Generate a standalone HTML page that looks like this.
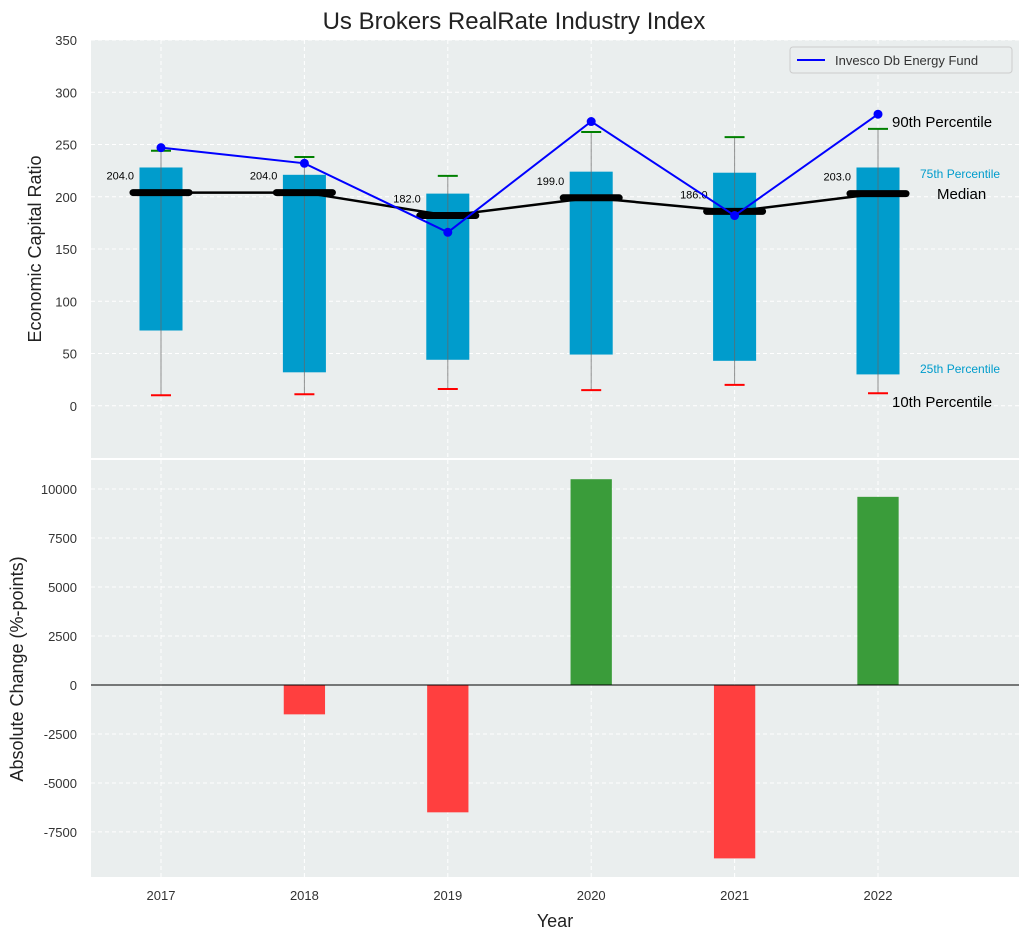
<!DOCTYPE html>
<html><head><meta charset="utf-8"><style>
body{margin:0;background:#fff;}
svg{font-family:"Liberation Sans",sans-serif;}
</style></head><body>
<svg id="c" width="1029" height="940" xmlns="http://www.w3.org/2000/svg"></svg>
<script>
const years=["2017","2018","2019","2020","2021","2022"];
const p25=[72,32,44,49,43,30];
const p75=[228,221,203,224,223,228];
const p10=[10,11,16,15,20,12];
const p90=[244,238,220,262,257,265];
const medians=[204,204,182,199,186,203];
const fund=[247,232,166,272,182,279];
const changes=[0,-1500,-6500,10500,-8850,9600];
const topTicks=[0,50,100,150,200,250,300,350];
const botTicks=[-7500,-5000,-2500,0,2500,5000,7500,10000];

const NS="http://www.w3.org/2000/svg";
const svg=document.getElementById('c');
function el(t,a,txt){const e=document.createElementNS(NS,t);for(const k in a)e.setAttribute(k,a[k]);if(txt!==undefined)e.textContent=txt;svg.appendChild(e);return e;}
const L=91,R=1019;
const step=143.4;
const x=i=>161+i*step;
const T0=40,T1=458; const yT=v=>T0+(350-v)/400*(T1-T0);
const B0=460,B1=877; const yB=v=>B0+(11480-v)/(11480+9800)*(B1-B0);
const bw=step*0.3;

let r=el('rect',{x:L,y:T0,width:R-L,height:T1-T0,fill:'#eaeeee'});

r=el('rect',{x:L,y:B0,width:R-L,height:B1-B0,fill:'#eaeeee'});


years.forEach((yr,i)=>{
 el('line',{x1:x(i),x2:x(i),y1:T0,y2:T1,stroke:'#fff','stroke-dasharray':'4,3'});
 el('line',{x1:x(i),x2:x(i),y1:B0,y2:B1,stroke:'#fff','stroke-dasharray':'4,3'});
 const t=el('text',{x:x(i),y:900,'text-anchor':'middle','font-size':13,fill:'#333'},yr);
 
});
topTicks.forEach(v=>{
 el('line',{x1:L,x2:R,y1:yT(v),y2:yT(v),stroke:'#fff','stroke-dasharray':'4,3'});
 const t=el('text',{x:77,y:yT(v)+5,'text-anchor':'end','font-size':13,fill:'#333'},v);
 
});
botTicks.forEach(v=>{
 el('line',{x1:L,x2:R,y1:yB(v),y2:yB(v),stroke:'#fff','stroke-dasharray':'4,3'});
 const t=el('text',{x:77,y:yB(v)+5,'text-anchor':'end','font-size':13,fill:'#333'},v);
 
});

years.forEach((yr,i)=>{
 const b=el('rect',{x:x(i)-bw/2,y:yT(p75[i]),width:bw,height:yT(p25[i])-yT(p75[i]),fill:'#009ccc'});
 
 el('line',{x1:x(i),x2:x(i),y1:yT(p90[i]),y2:yT(p10[i]),stroke:'#666','stroke-width':1,opacity:0.7});
 el('line',{x1:x(i)-10,x2:x(i)+10,y1:yT(p90[i]),y2:yT(p90[i]),stroke:'green','stroke-width':2});
 el('line',{x1:x(i)-10,x2:x(i)+10,y1:yT(p10[i]),y2:yT(p10[i]),stroke:'red','stroke-width':2});
});
el('polyline',{points:medians.map((v,i)=>x(i)+','+yT(v)).join(' '),fill:'none',stroke:'#000','stroke-width':2.5});
years.forEach((yr,i)=>{
 const m=el('line',{x1:x(i)-28,x2:x(i)+28,y1:yT(medians[i]),y2:yT(medians[i]),stroke:'#000','stroke-width':7,'stroke-linecap':'round'});
 
 const t=el('text',{x:x(i)-27,y:yT(medians[i])-13,'text-anchor':'end','font-size':11,fill:'#000'},medians[i].toFixed(1));
 
});
el('polyline',{points:fund.map((v,i)=>x(i)+','+yT(v)).join(' '),fill:'none',stroke:'blue','stroke-width':2});
fund.forEach((v,i)=>{const c=el('circle',{cx:x(i),cy:yT(v),r:4.5,fill:'blue'});
 });

[["90th Percentile",892,127,15,'#000'],["75th Percentile",920,178,12,'#009ccc'],["Median",937,199,15,'#000'],["25th Percentile",920,373,12,'#009ccc'],["10th Percentile",892,407,15,'#000']].forEach(a=>{
 const t=el('text',{x:a[1],y:a[2],'font-size':a[3],fill:a[4]},a[0]);
 
});

const lg=el('rect',{x:790,y:47,width:222,height:26,fill:'#eaeeee',stroke:'#ccc',rx:3});

el('line',{x1:797,x2:825,y1:60,y2:60,stroke:'blue','stroke-width':2});
let t=el('text',{x:835,y:65,'font-size':13,fill:'#333'},'Invesco Db Energy Fund');


years.forEach((yr,i)=>{
 const v=changes[i]; if(v===0)return;
 const b=el('rect',{x:x(i)-bw*0.48,y:Math.min(yB(v),yB(0)),width:bw*0.96,height:Math.abs(yB(v)-yB(0)),fill:v>0?'#3a9c3a':'#ff3f3f'});
 
});
el('line',{x1:L,x2:R,y1:yB(0),y2:yB(0),stroke:'#000','stroke-width':1});

t=el('text',{x:514,y:29,'text-anchor':'middle','font-size':24,fill:'#222'},'Us Brokers RealRate Industry Index');

t=el('text',{x:0,y:0,'text-anchor':'middle','font-size':18,fill:'#222',transform:'translate(41,249) rotate(-90)'},'Economic Capital Ratio');

t=el('text',{x:0,y:0,'text-anchor':'middle','font-size':18,fill:'#222',transform:'translate(23,669) rotate(-90)'},'Absolute Change (%-points)');

t=el('text',{x:555,y:927,'text-anchor':'middle','font-size':18,fill:'#222'},'Year');

</script>
</body></html>
